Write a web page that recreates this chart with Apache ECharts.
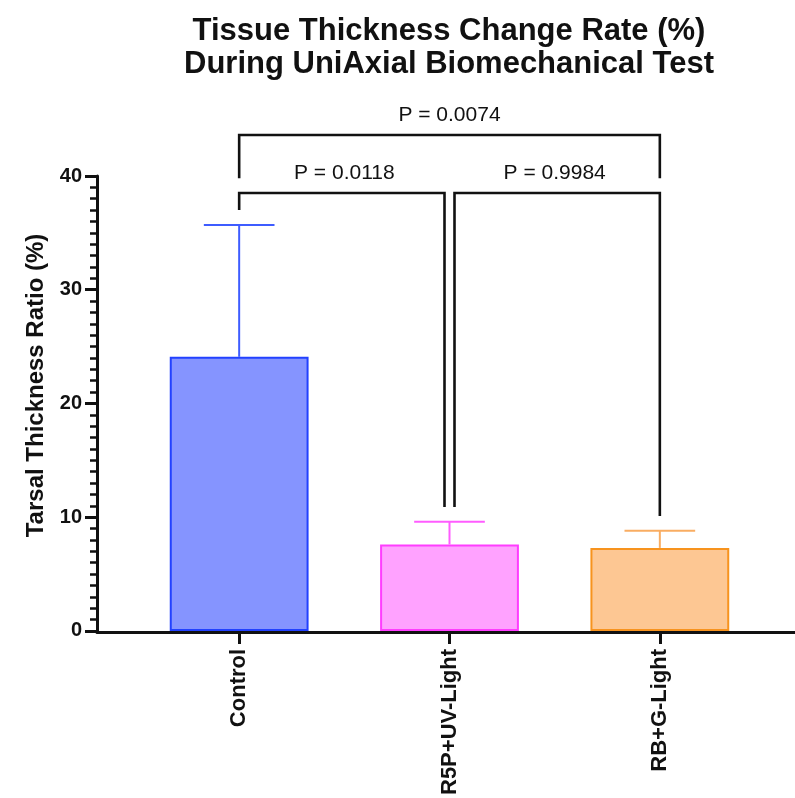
<!DOCTYPE html>
<html>
<head>
<meta charset="utf-8">
<script src="https://cdn.jsdelivr.net/npm/echarts@6/dist/echarts.min.js"></script>
<style>
  html, body { margin: 0; padding: 0; background: #ffffff; }
  #chart { width: 795px; height: 798px; }
</style>
</head>
<body>
<div id="chart"></div>
<script>
// ---- data ----
const categories = ['Control', 'R5P+UV-Light', 'RB+G-Light'];
const meanValues = [24.1, 7.6, 7.3];
const sdValues = [11.6, 2.0, 1.5];
const comparisonPairs = [[0, 1], [1, 2], [0, 2]];
const pValues = ['0.0118', '0.9984', '0.0074'];
const yMin = 0;
const yMax = 40;
const yStep = 10;

// ---- styling ----
const FONT = '"Liberation Sans", Arial, Helvetica, sans-serif';
const barFills = ['#8594ff', '#ffa2ff', '#fdc793'];
const barBorders = ['#2241ff', '#ff3dff', '#f7931e'];
const errColors = ['#3e5cff', '#ff5cff', '#f9ad62'];
const bracketLevel = [38.5, 38.5, 43.6];   // axis units
const dropGap = 1.3;                       // axis units between bracket foot and what is below
const sharedInset = 5;                     // px gap where two brackets meet at one group
const labelLift = 20;                      // px from bracket to P label

function dropEnd(i, idx) {
  let below = meanValues[idx] + sdValues[idx];
  comparisonPairs.forEach((pair, j) => {
    if (j !== i && bracketLevel[j] < bracketLevel[i] &&
        idx >= Math.min(pair[0], pair[1]) && idx <= Math.max(pair[0], pair[1])) {
      below = Math.max(below, bracketLevel[j]);
    }
  });
  return below + dropGap;
}

function isShared(i, idx) {
  return comparisonPairs.some((pair, j) =>
    j !== i && bracketLevel[j] === bracketLevel[i] && (pair[0] === idx || pair[1] === idx));
}

function renderBracket(params, api) {
  const i = params.dataIndex;
  const [a, b] = comparisonPairs[i];
  const lvl = bracketLevel[i];
  const pa = api.coord([a, lvl]);
  const pb = api.coord([b, lvl]);
  const xa = pa[0] + (isShared(i, a) ? sharedInset : 0);
  const xb = pb[0] - (isShared(i, b) ? sharedInset : 0);
  const yTop = pa[1];
  const ya = api.coord([a, dropEnd(i, a)])[1];
  const yb = api.coord([b, dropEnd(i, b)])[1];
  return {
    type: 'group',
    children: [
      {
        type: 'polyline',
        shape: { points: [[xa, ya], [xa, yTop], [xb, yTop], [xb, yb]] },
        style: { stroke: '#111111', lineWidth: 2.6, fill: null, lineJoin: 'miter' }
      },
      {
        type: 'text',
        style: {
          text: 'P = ' + pValues[i],
          x: (pa[0] + pb[0]) / 2,
          y: yTop - labelLift,
          align: 'center',
          verticalAlign: 'middle',
          font: '21px ' + FONT,
          fill: '#111111'
        }
      }
    ]
  };
}

function renderErrorBar(params, api) {
  const i = params.dataIndex;
  const base = api.coord([i, meanValues[i]]);
  const top = api.coord([i, meanValues[i] + sdValues[i]]);
  const half = api.size([1, 0])[0] * 0.168;
  const style = { stroke: errColors[i], lineWidth: 2 };
  return {
    type: 'group',
    children: [
      { type: 'line', shape: { x1: base[0], y1: base[1], x2: top[0], y2: top[1] }, style },
      { type: 'line', shape: { x1: top[0] - half, y1: top[1], x2: top[0] + half, y2: top[1] }, style }
    ]
  };
}

const chart = echarts.init(document.getElementById('chart'), null, { renderer: 'canvas' });

chart.setOption({
  animation: false,
  backgroundColor: '#ffffff',
  title: {
    text: 'Tissue Thickness Change Rate (%)\nDuring UniAxial Biomechanical Test',
    left: 449,
    top: 15,
    padding: 0,
    textAlign: 'center',
    textStyle: {
      fontFamily: FONT,
      fontWeight: 'bold',
      fontSize: 31,
      lineHeight: 33,
      color: '#111111'
    }
  },
  grid: [
    { left: 134, right: 30, top: 176, bottom: 166 },
    { left: 97, right: 0, top: 176, bottom: 166 }
  ],
  xAxis: [
    {
      type: 'category',
      gridIndex: 0,
      data: categories,
      axisLine: { show: false },
      axisTick: { show: true, alignWithLabel: true, length: 13, lineStyle: { color: '#111111', width: 3 } },
      axisLabel: {
        rotate: 90,
        margin: 18,
        fontFamily: FONT,
        fontWeight: 'bold',
        fontSize: 22,
        color: '#111111'
      },
      splitLine: { show: false }
    },
    {
      type: 'value',
      gridIndex: 1,
      min: 0,
      max: 1,
      z: 5,
      axisLine: { show: true, lineStyle: { color: '#111111', width: 3 } },
      axisTick: { show: false },
      axisLabel: { show: false },
      splitLine: { show: false }
    }
  ],
  yAxis: [
    {
      type: 'value',
      gridIndex: 0,
      min: yMin,
      max: yMax,
      interval: yStep,
      offset: 37,
      name: 'Tarsal Thickness Ratio (%)',
      nameLocation: 'middle',
      nameGap: 48,
      nameTextStyle: {
        fontFamily: FONT,
        fontWeight: 'bold',
        fontSize: 24,
        color: '#111111',
        padding: [0, 0, 0, 36]
      },
      axisLine: { show: true, lineStyle: { color: '#111111', width: 3 } },
      axisTick: { show: true, length: 12, lineStyle: { color: '#111111', width: 3 } },
      minorTick: { show: true, splitNumber: 10, length: 7, lineStyle: { color: '#111111', width: 2.5 } },
      axisLabel: {
        margin: 15,
        fontFamily: FONT,
        fontWeight: 'bold',
        fontSize: 20,
        color: '#111111'
      },
      splitLine: { show: false }
    },
    {
      type: 'value',
      gridIndex: 1,
      min: 0,
      max: 1,
      show: false
    }
  ],
  series: [
    {
      type: 'bar',
      xAxisIndex: 0,
      yAxisIndex: 0,
      barWidth: '66%',
      data: meanValues.map((v, i) => ({
        value: v,
        itemStyle: { color: barFills[i], borderColor: barBorders[i], borderWidth: 2 }
      }))
    },
    {
      type: 'custom',
      xAxisIndex: 0,
      yAxisIndex: 0,
      z: 3,
      renderItem: renderErrorBar,
      data: meanValues.map((v, i) => [i, v + sdValues[i]])
    },
    {
      type: 'custom',
      xAxisIndex: 0,
      yAxisIndex: 0,
      clip: false,
      z: 4,
      renderItem: renderBracket,
      data: comparisonPairs.map((p, i) => [p[0], bracketLevel[i]])
    }
  ]
});
</script>
</body>
</html>
